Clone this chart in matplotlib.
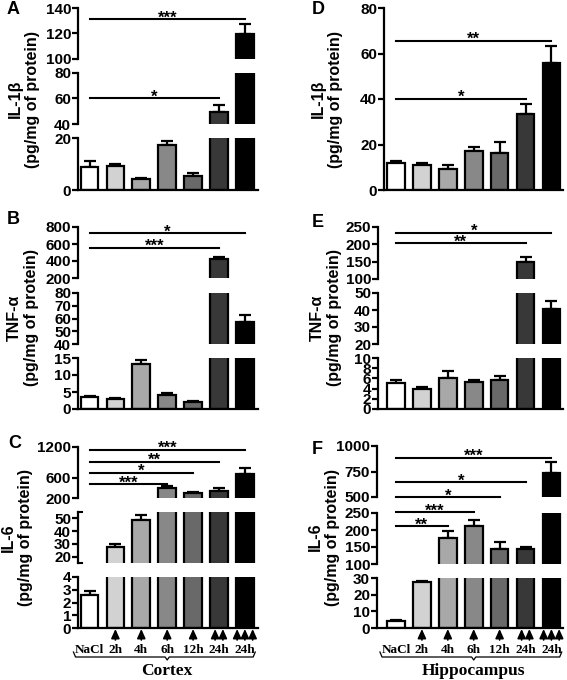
import matplotlib.pyplot as plt
import numpy as np
from matplotlib.transforms import Affine2D, blended_transform_factory

plt.rcParams['font.family'] = ['Liberation Sans', 'DejaVu Sans']
plt.rcParams['font.weight'] = 'bold'

W, H = 567, 680

groups = ["NaCl", "2h", "4h", "6h", "12h", "24h", "24h"]
n_arrows = [0, 1, 1, 1, 1, 2, 3]
bar_colors = ["white", "#d2d2d2", "#a8a8a8", "#888888", "#696969", "#383838", "black"]

# IL-1beta
il1b_cortex = [9.0, 9.4, 4.3, 17.2, 5.4, 49.2, 119.9]
il1b_cortex_err = [2.2, 0.6, 0.3, 1.5, 1.1, 5.8, 7.6]
il1b_hippo = [11.7, 11.0, 9.2, 17.3, 16.2, 33.3, 55.8]
il1b_hippo_err = [1.2, 1.0, 1.8, 1.5, 4.7, 4.4, 7.6]

# TNF-alpha
tnf_cortex = [3.4, 2.9, 13.2, 4.2, 2.1, 421, 56.9]
tnf_cortex_err = [0.5, 0.4, 1.3, 0.4, 0.3, 31, 5.7]
tnf_hippo = [5.1, 4.0, 6.1, 5.2, 5.75, 150, 40.5]
tnf_hippo_err = [0.5, 0.4, 1.3, 0.55, 0.65, 14, 4.9]

# IL-6
il6_cortex = [2.58, 27.8, 48.7, 393, 297, 342, 671]
il6_cortex_err = [0.3, 1.8, 3.9, 45, 19, 51, 110]
il6_hippo = [4.0, 27.4, 177, 211, 143, 143, 740]
il6_hippo_err = [1.0, 0.6, 20, 19.5, 21.5, 7.8, 107]

# significance: (last group, height, stars, segment)
sig_a = [(6, 131, "***", 2), (5, 60, "*", 1)]
sig_d = [(6, 65.6, "**", 0), (5, 40.1, "*", 0)]
sig_b = [(6, 730, "*", 2), (5, 556, "***", 2)]
sig_e = [(6, 234, "*", 2), (5, 204, "**", 2)]
sig_c = [(6, 1148, "***", 2), (5, 910, "**", 2), (4, 697, "*", 2), (3, 477, "***", 2)]
sig_f = [(6, 886, "***", 2), (5, 646, "*", 2), (4, 500, "*", 2), (3, 252, "***", 1), (2, 211, "**", 1)]

# axis segments: (ymin, ymax, top px, bottom px, ticks)
seg_a = [(0, 20, 138, 190, [0, 20]), (40, 80, 73, 124, [40, 60, 80]), (100, 140, 8, 59, [100, 120, 140])]
seg_d = [(0, 80, 8, 190, [0, 20, 40, 60, 80])]
seg_b = [(0, 15, 358, 409, [0, 5, 10, 15]), (40, 80, 293, 344, [40, 50, 60, 70, 80]),
         (200, 800, 227, 278, [200, 400, 600, 800])]
seg_e = [(0, 10, 358, 409, [0, 2, 4, 6, 8, 10]), (20, 50, 293, 344, [20, 30, 40, 50]),
         (100, 250, 227, 279, [100, 150, 200, 250])]
seg_c = [(0, 4, 577, 628, [0, 1, 2, 3, 4]), (15, 55, 512, 563, [20, 30, 40, 50]),
         (200, 1200, 447, 498, [200, 600, 1200])]
seg_f = [(0, 30, 578, 628, [0, 10, 20, 30]), (100, 250, 513, 564, [100, 150, 200, 250]),
         (500, 1000, 446, 497, [500, 750, 1000])]

STEP = 25.9
fig = plt.figure(figsize=(W / 100, H / 100), dpi=100)
ypx = Affine2D().scale(1, -1).translate(0, H)


def panel(left, right, c0, segs, vals, errs, sigs, letter, letter_xy, ylabel, label_x, bracket=False):
    x = np.arange(len(vals))
    axes = []
    for i, (lo, hi, top, bot, ticks) in enumerate(segs):
        ax = fig.add_axes([left / W, 1 - bot / H, (right - left) / W, (bot - top) / H])
        ax.bar(x, vals, width=0.68, color=bar_colors, edgecolor="black", linewidth=1.6, zorder=2)
        ax.errorbar(x, vals, yerr=[np.zeros(len(vals)), errs], fmt="none", ecolor="black",
                    elinewidth=1.6, capsize=4.5, capthick=1.6, zorder=1)
        ax.set_xlim((left - c0) / STEP, (right - c0) / STEP)
        ax.set_ylim(lo, hi)
        ax.set_yticks(ticks)
        ax.set_xticks([])
        ax.spines["top"].set_visible(False)
        ax.spines["right"].set_visible(False)
        if i > 0:
            ax.spines["bottom"].set_visible(False)
        for sp in ax.spines.values():
            sp.set_linewidth(1.6)
        ax.tick_params(axis="y", width=1.6, length=4, pad=1, labelsize=11)
        ax.patch.set_visible(False)
        axes.append(ax)

    for end, yv, stars, k in sigs:
        ax = axes[k]
        ax.plot([0, end], [yv, yv], color="black", lw=1.5, clip_on=False)
        ax.annotate(stars, xy=(end / 2, yv), xytext=(0, -2.5), textcoords="offset points",
                    ha="center", va="baseline", fontsize=12, fontweight="bold", annotation_clip=False)

    fig.text(letter_xy[0] / W, 1 - letter_xy[1] / H, letter, fontsize=13, fontweight="bold",
             ha="center", va="center")
    ymid = (segs[-1][2] + segs[0][3]) / 2
    fig.text(label_x / W, 1 - ymid / H, ylabel, rotation=90, ha="center", va="center",
             fontsize=11.5, fontweight="bold", linespacing=1.15, multialignment="center")

    if bracket:
        ax = axes[0]
        tr = blended_transform_factory(ax.transData, ypx)
        for i, g in enumerate(groups):
            ax.text(i, 650, g, transform=tr, ha="center", va="center", fontsize=9.5,
                    family="Liberation Serif", fontweight="bold")
            k = n_arrows[i]
            for j in range(k):
                xa = i + (j - (k - 1) / 2) * 0.3
                ax.annotate("", xy=(xa, 629), xycoords=tr, xytext=(xa, 640), textcoords=tr,
                            arrowprops=dict(arrowstyle="-|>,head_length=0.55,head_width=0.25",
                                            color="black", lw=1.2, shrinkA=0, shrinkB=0),
                            annotation_clip=False)
        xl, xr, xc = -0.62, 6.4, 3.0
        bx = [xl, xl + 0.08, xc - 0.08, xc, xc + 0.08, xr - 0.08, xr]
        by = [652, 657, 657, 660, 657, 657, 652]
        ax.plot(bx, by, transform=tr, color="black", lw=0.9, clip_on=False)
        return axes, tr
    return axes, None


panel(78, 258, 89.5, seg_a, il1b_cortex, il1b_cortex_err, sig_a, "A", (13, 9),
      "IL-1β\n(pg/mg of protein)", 24)
panel(384, 563, 396, seg_d, il1b_hippo, il1b_hippo_err, sig_d, "D", (318, 10),
      "IL-1β\n(pg/mg of protein)", 327)
panel(78, 258, 89.5, seg_b, tnf_cortex, tnf_cortex_err, sig_b, "B", (13, 219),
      "TNF-α\n(pg/mg of protein)", 23)
panel(378, 563, 396, seg_e, tnf_hippo, tnf_hippo_err, sig_e, "E", (318, 223),
      "TNF-α\n(pg/mg of protein)", 326)
axes_c, tr_c = panel(78, 258, 89.5, seg_c, il6_cortex, il6_cortex_err, sig_c, "C", (15, 444),
                     "IL-6\n(pg/mg of protein)", 17, bracket=True)
axes_f, tr_f = panel(377, 563, 396, seg_f, il6_hippo, il6_hippo_err, sig_f, "F", (317, 449),
                     "IL-6\n(pg/mg of protein)", 324, bracket=True)

# end marks on the 15-55 segment of panel C
mid = axes_c[1]
x0 = mid.get_xlim()[0]
for yv in (15, 55):
    mid.plot([x0, x0 + 0.17], [yv, yv], color="black", lw=1.5, clip_on=False)

axes_c[0].text(3.0, 671, "Cortex", transform=tr_c, ha="center", va="center", fontsize=12.5,
               family="Liberation Serif", fontweight="bold")
axes_f[0].text(3.0, 671, "Hippocampus", transform=tr_f, ha="center", va="center", fontsize=12.5,
               family="Liberation Serif", fontweight="bold")

fig.savefig("out.png", dpi=100)
